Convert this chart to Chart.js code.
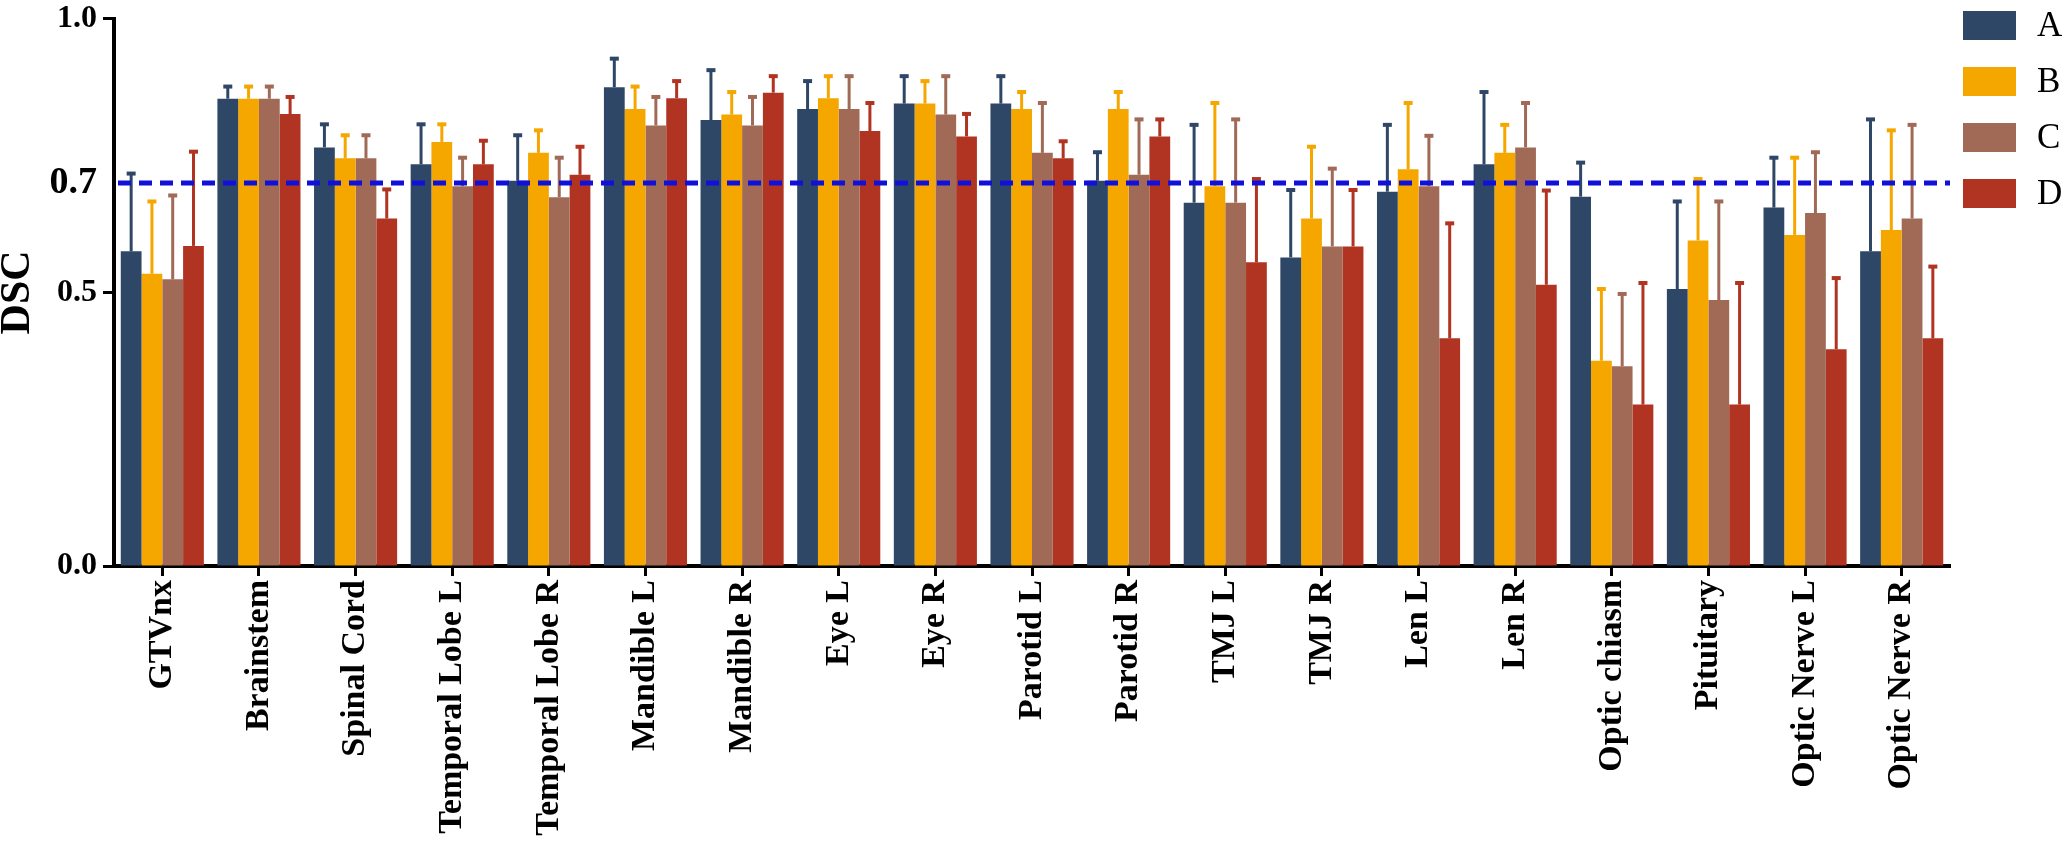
<!DOCTYPE html>
<html>
<head>
<title>DSC per organ</title>
<style>
html, body { margin: 0; padding: 0; background: #fff; }
#wrap { width: 2064px; height: 847px; }
</style>
</head>
<body>
<div id="wrap"><canvas id="dscChart" width="2064" height="847"></canvas></div>
<script src="https://cdn.jsdelivr.net/npm/chart.js@4.4.0/dist/chart.umd.min.js"></script>
<script>
// organs on the x axis
const organs = ['GTVnx', 'Brainstem', 'Spinal Cord', 'Temporal Lobe L', 'Temporal Lobe R',
  'Mandible L', 'Mandible R', 'Eye L', 'Eye R', 'Parotid L', 'Parotid R', 'TMJ L', 'TMJ R',
  'Len L', 'Len R', 'Optic chiasm', 'Pituitary', 'Optic Nerve L', 'Optic Nerve R'];
const methods = ['A', 'B', 'C', 'D'];

// mean DSC per method
const meanA = [0.575, 0.854, 0.765, 0.734, 0.704, 0.875, 0.815, 0.835, 0.845, 0.845, 0.704, 0.664, 0.564, 0.684, 0.734, 0.675, 0.506, 0.655, 0.575];
const meanB = [0.534, 0.854, 0.745, 0.775, 0.755, 0.835, 0.825, 0.855, 0.845, 0.835, 0.835, 0.694, 0.635, 0.725, 0.755, 0.375, 0.595, 0.605, 0.614];
const meanC = [0.524, 0.854, 0.745, 0.694, 0.674, 0.805, 0.805, 0.835, 0.825, 0.755, 0.715, 0.664, 0.584, 0.694, 0.765, 0.365, 0.486, 0.645, 0.635];
const meanD = [0.585, 0.826, 0.635, 0.734, 0.715, 0.855, 0.865, 0.795, 0.785, 0.745, 0.785, 0.555, 0.584, 0.416, 0.514, 0.295, 0.295, 0.396, 0.416];

// standard deviation (upper error bar only)
const sdA = [0.144, 0.024, 0.044, 0.075, 0.085, 0.054, 0.093, 0.053, 0.052, 0.052, 0.054, 0.144, 0.125, 0.124, 0.134, 0.064, 0.162, 0.093, 0.243];
const sdB = [0.134, 0.024, 0.044, 0.034, 0.043, 0.043, 0.043, 0.042, 0.043, 0.033, 0.033, 0.154, 0.133, 0.123, 0.053, 0.133, 0.114, 0.143, 0.184];
const sdC = [0.155, 0.024, 0.044, 0.054, 0.074, 0.054, 0.054, 0.062, 0.072, 0.093, 0.103, 0.154, 0.144, 0.094, 0.083, 0.134, 0.182, 0.113, 0.173];
const sdD = [0.174, 0.033, 0.055, 0.045, 0.053, 0.033, 0.032, 0.053, 0.043, 0.033, 0.033, 0.154, 0.105, 0.212, 0.174, 0.224, 0.224, 0.132, 0.133];

const yTicks = [0.0, 0.5, 0.7, 1.0];
const threshold = 0.7;

const colours = ['#2f4767', '#f5a700', '#a06a56', '#b03421'];
const serif = 'Liberation Serif';

const means = [meanA, meanB, meanC, meanD];
const sds = [sdA, sdB, sdC, sdD];

// upper error bars with a small cap
const errorBars = {
  id: 'errorBars',
  afterDatasetsDraw(chart) {
    const ctx = chart.ctx, y = chart.scales.y;
    chart.data.datasets.forEach((ds, i) => {
      const meta = chart.getDatasetMeta(i);
      meta.data.forEach((bar, j) => {
        const top = y.getPixelForValue(ds.data[j] + ds.sd[j]);
        ctx.save();
        ctx.strokeStyle = ds.backgroundColor;
        ctx.lineWidth = 3;
        ctx.beginPath();
        ctx.moveTo(bar.x, bar.y);
        ctx.lineTo(bar.x, top);
        ctx.stroke();
        ctx.lineWidth = 4;
        ctx.beginPath();
        ctx.moveTo(bar.x - 4.5, top + 1);
        ctx.lineTo(bar.x + 4.5, top + 1);
        ctx.stroke();
        ctx.restore();
      });
    });
  }
};

// dashed 0.7 line over the bars
const thresholdLine = {
  id: 'thresholdLine',
  afterDatasetsDraw(chart) {
    const ctx = chart.ctx, area = chart.chartArea;
    const yy = chart.scales.y.getPixelForValue(threshold);
    ctx.save();
    ctx.strokeStyle = '#1010d8';
    ctx.lineWidth = 5;
    ctx.setLineDash([13, 8]);
    ctx.beginPath();
    ctx.moveTo(area.left + 4, yy);
    ctx.lineTo(area.right, yy);
    ctx.stroke();
    ctx.restore();
  }
};

// legend column at the top right
const sideLegend = {
  id: 'sideLegend',
  afterDraw(chart) {
    const ctx = chart.ctx;
    ctx.save();
    ctx.font = '35px "' + serif + '"';
    ctx.textBaseline = 'middle';
    chart.data.datasets.forEach((ds, i) => {
      const top = 11 + i * 56;
      ctx.fillStyle = ds.backgroundColor;
      ctx.fillRect(1963, top, 53, 29);
      ctx.fillStyle = '#000';
      ctx.fillText(ds.label, 2037, top + 16);
    });
    ctx.restore();
  }
};

const ctx_dsc = document.getElementById('dscChart').getContext('2d');

let dscChart = new Chart(ctx_dsc, {
  type: 'bar',
  data: {
    labels: organs,
    datasets: methods.map((m, i) => ({
      label: m,
      data: means[i],
      sd: sds[i],
      backgroundColor: colours[i],
      borderWidth: 0,
      categoryPercentage: 0.86,
      barPercentage: 1.0
    }))
  },
  options: {
    responsive: false,
    animation: false,
    devicePixelRatio: 1,
    layout: { padding: { top: 13, right: 114, left: 0, bottom: 0 } },
    plugins: {
      legend: { display: false },
      tooltip: { enabled: false }
    },
    scales: {
      x: {
        offset: true,
        afterFit: s => { s.height = 281; },
        border: { display: true, color: '#000', width: 4 },
        grid: { offset: false, drawOnChartArea: false, drawTicks: true, tickLength: 10, tickWidth: 3, color: '#000' },
        ticks: {
          autoSkip: false, maxRotation: 90, minRotation: 90, padding: 4, color: '#000',
          font: { family: serif, weight: 'bold', size: 34 }
        }
      },
      y: {
        min: 0,
        max: 1,
        afterBuildTicks: s => { s.ticks = yTicks.map(v => ({ value: v })); },
        afterFit: s => { s.width = 114; },
        border: { display: true, color: '#000', width: 4 },
        grid: {
          drawOnChartArea: false, drawTicks: true, tickLength: 11, tickWidth: 3,
          color: c => (c.tick && c.tick.value === threshold) ? 'rgba(0,0,0,0)' : '#000'
        },
        ticks: {
          padding: 6, color: '#000',
          callback: v => v.toFixed(1),
          font: c => ({ family: serif, weight: 'bold', size: (c.tick && c.tick.value === threshold) ? 38 : 32, lineHeight: 0.8 })
        },
        title: {
          display: true, text: 'DSC', color: '#000', padding: 0,
          font: { family: serif, weight: 'bold', size: 42, lineHeight: 0.85 }
        }
      }
    }
  },
  plugins: [errorBars, thresholdLine, sideLegend]
});
</script>
</body>
</html>
